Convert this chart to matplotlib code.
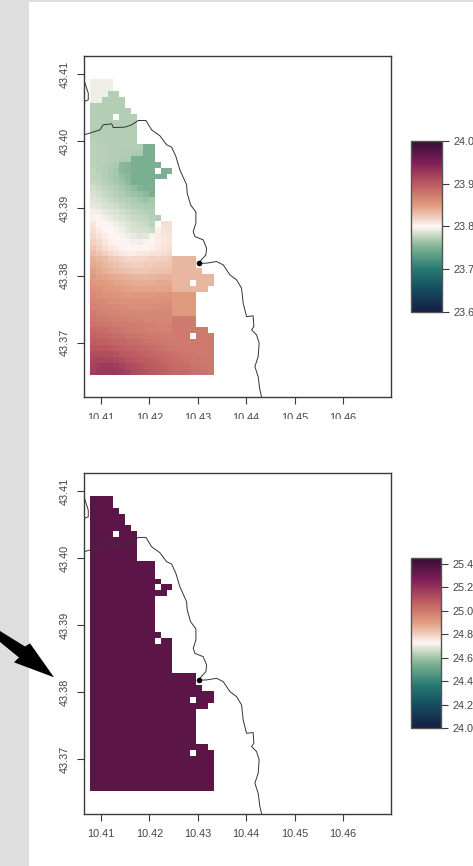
import matplotlib
matplotlib.use("Agg")
import matplotlib.pyplot as plt
import numpy as np
from matplotlib.colors import LinearSegmentedColormap
from matplotlib.patches import Polygon, Rectangle

plt.rcParams['font.family'] = ['Liberation Sans', 'DejaVu Sans']

W, H = 473, 866

# raster extent, 21 columns by 50 rows
lon_range = (10.4077, 10.4333)
lat_range = (43.4093, 43.3652)

x_ticks = [10.41, 10.42, 10.43, 10.44, 10.45, 10.46]
y_ticks = [43.37, 43.38, 43.39, 43.40, 43.41]
cbar1_ticks = [23.6, 23.7, 23.8, 23.9, 24.0]
cbar2_ticks = [24.0, 24.2, 24.4, 24.6, 24.8, 25.0, 25.2, 25.4]
cbar1_range = (23.6, 24.0)
cbar2_range = (24.0, 25.45)
plot2_value = 25.35

point_lon = [10.4303]
point_lat = [43.3818]

coast_lon = [10.4065, 10.4077, 10.4098, 10.41047, 10.41221, 10.41254, 10.41495, 10.41634,
             10.4177, 10.41929, 10.42046, 10.42218, 10.42356, 10.42459, 10.42548, 10.4263,
             10.42769, 10.42781, 10.42851, 10.42961, 10.42961, 10.42905, 10.4294, 10.43111,
             10.43182, 10.43167, 10.43043, 10.4303, 10.43182, 10.43388, 10.43524, 10.43663,
             10.43801, 10.43904, 10.43937, 10.44007, 10.44143, 10.44158, 10.44111, 10.44214,
             10.44267, 10.44247, 10.44179, 10.44247, 10.44282, 10.44317]
coast_lat = [43.40096, 43.40121, 43.4017, 43.40245, 43.4026, 43.40204, 43.4021, 43.40245,
             43.40309, 43.40309, 43.4017, 43.40081, 43.39947, 43.39912, 43.39772, 43.39574,
             43.3935, 43.39227, 43.39053, 43.38944, 43.3878, 43.38655, 43.3858, 43.38531,
             43.38407, 43.38308, 43.38208, 43.3818, 43.38184, 43.38208, 43.38159, 43.3801,
             43.37935, 43.37811, 43.37588, 43.37388, 43.37399, 43.37239, 43.3719, 43.37115,
             43.36992, 43.36792, 43.36643, 43.36494, 43.36296, 43.36192]
island_lon = [10.4065, 10.4067, 10.40705, 10.40738, 10.40738, 10.40655]
island_lat = [43.40926, 43.40866, 43.40791, 43.40717, 43.40617, 43.40592]

# upper panel values, thousandths above 23, top row first; N = hole in the raster
N = None
plot1_rows = [
    [794, 794, 794, 794],
    [794, 794, 794, 794],
    [794, 794, 794, 772, 772],
    [794, 794, 772, 772, 772, 772],
    [772, 772, 772, 772, 772, 772],
    [772, 772, 772, 772, 772, 772, 772],
    [772, 772, 772, 772, N, 772, 772, 772],
    [772, 772, 772, 772, 772, 772, 772, 772],
    [772, 772, 772, 772, 772, 772, 772, 772],
    [772, 772, 772, 772, 772, 772, 772, 772],
    [775, 774, 773, 772, 772, 772, 772, 772],
    [776, 775, 774, 773, 772, 772, 772, 772, 772, 750, 750],
    [776, 775, 774, 773, 772, 771, 771, 770, 770, 750, 750],
    [776, 775, 774, 772, 771, 770, 769, 750, 750, 750, 750],
    [776, 775, 773, 771, 769, 755, 754, 750, 750, 750, 750, 750],
    [777, 775, 773, 770, 767, 756, 754, 750, 750, 750, 750, N, 750, 750],
    [778, 776, 773, 770, 767, 760, 755, 750, 750, 750, 750, 750, 750],
    [779, 777, 774, 771, 768, 763, 757, 750, 750, 750, 750],
    [783, 781, 778, 775, 772, 768, 763, 758, 752, 750, 750],
    [786, 784, 781, 778, 775, 771, 767, 763, 760, 757, 750],
    [789, 787, 784, 781, 778, 775, 772, 769, 766, 764, 768],
    [792, 790, 787, 785, 782, 779, 776, 773, 771, 769, 770],
    [796, 794, 792, 789, 786, 783, 780, 778, 776, 774, 772],
    [798, 797, 796, 793, 790, 787, 784, 781, 779, 778, 774, 772],
    [808, 800, 799, 798, 795, 791, 788, 785, 782, 780, 776, N, 812, 812],
    [812, 806, 800, 799, 797, 794, 790, 787, 785, 783, 781, 804, 810, 812],
    [815, 810, 805, 801, 799, 797, 794, 791, 789, 790, 797, 805, 808, 810],
    [820, 815, 809, 804, 801, 799, 798, 796, 795, 797, 801, 806, 808, 810],
    [824, 819, 814, 809, 805, 802, 800, 800, 800, 802, 804, 807, 810, 812],
    [831, 826, 821, 816, 812, 808, 806, 806, 807, 808, 810, 812, 814, 816],
    [838, 834, 830, 826, 822, 819, 817, 817, 817, 818, 819, 820, 821, 822, 833, 833, 833, 833],
    [842, 838, 834, 830, 827, 824, 822, 821, 821, 822, 823, 824, 825, 826, 833, 833, 833, 833],
    [846, 842, 838, 835, 832, 829, 827, 826, 826, 826, 827, 828, 829, 829, 833, 833, 833, 833, 833],
    [850, 846, 844, 842, 840, 838, 836, 835, 834, 834, 835, 836, 837, 837, 833, 833, 833, 833, 833, 833, 833],
    [854, 851, 849, 847, 845, 843, 841, 840, 839, 839, 840, 841, 841, 841, 833, 833, 833, N, 833, 833, 833],
    [857, 855, 853, 851, 849, 847, 846, 845, 844, 844, 845, 845, 845, 846, 833, 833, 833, 833, 833, 833],
    [861, 859, 857, 855, 853, 852, 851, 850, 850, 850, 851, 852, 853, 855, 850, 850, 850, 850],
    [865, 863, 861, 859, 858, 857, 856, 855, 855, 855, 855, 856, 857, 858, 850, 850, 850, 850],
    [868, 866, 864, 863, 862, 861, 860, 859, 859, 859, 859, 860, 860, 861, 850, 850, 850, 850],
    [872, 870, 868, 867, 866, 865, 864, 864, 863, 863, 863, 863, 864, 864, 850, 850, 850, 850],
    [876, 874, 872, 871, 870, 869, 868, 867, 866, 865, 865, 865, 865, 865, 875, 875, 875, 875],
    [881, 879, 877, 876, 875, 874, 873, 872, 871, 870, 869, 868, 868, 868, 875, 875, 875, 875],
    [886, 885, 883, 881, 879, 877, 875, 874, 873, 871, 870, 869, 868, 868, 875, 875, 875, 875, 875, 875],
    [891, 890, 888, 887, 885, 883, 881, 880, 878, 876, 875, 873, 872, 871, 875, 875, 875, N, 875, 875, 875],
    [897, 896, 895, 893, 891, 889, 887, 885, 883, 881, 879, 878, 876, 875, 875, 875, 875, 875, 875, 875, 875],
    [903, 903, 902, 900, 898, 895, 893, 891, 888, 886, 884, 882, 880, 878, 876, 875, 875, 875, 875, 875, 875],
    [909, 910, 909, 908, 905, 902, 899, 896, 894, 891, 889, 887, 884, 882, 880, 878, 877, 876, 875, 875, 875],
    [915, 917, 917, 916, 913, 910, 906, 903, 900, 897, 894, 892, 889, 887, 884, 882, 880, 878, 877, 876, 875],
    [918, 922, 925, 925, 922, 918, 914, 910, 906, 902, 899, 896, 893, 889, 887, 885, 883, 881, 879, 877, 875],
    [920, 925, 928, 928, 926, 922, 918, 913, 909, 905, 902, 899, 896, 892, 890, 888, 886, 884, 882, 880, 878],
]

curl = LinearSegmentedColormap.from_list("curl", [
    (0.0, "#151d44"), (0.125, "#144a5e"), (0.25, "#257a71"), (0.375, "#7cb092"),
    (0.44, "#bcd3ba"), (0.5, "#fef6f5"), (0.56, "#efc9b6"), (0.625, "#e09a7e"),
    (0.75, "#bc5960"), (0.875, "#7e1d57"), (1.0, "#340d35")])

TEXT = "#444444"
LINE = "#3a3a3a"


def px_box(left, top, right, bottom):
    return [left / W, 1 - bottom / H, (right - left) / W, (bottom - top) / H]


def draw_map(fig, box, cbar_box, values, vrange, cbar_ticks):
    ax = fig.add_axes(px_box(*box))
    edges_x = np.linspace(*lon_range, values.shape[1] + 1)
    edges_y = np.linspace(*lat_range, values.shape[0] + 1)
    mesh = ax.pcolormesh(edges_x, edges_y, np.ma.masked_invalid(values), cmap=curl,
                         vmin=vrange[0], vmax=vrange[1], linewidth=0, rasterized=True)
    ax.plot(coast_lon, coast_lat, color="#333333", lw=0.7)
    ax.plot(island_lon, island_lat, color="#333333", lw=0.7)
    ax.plot(point_lon, point_lat, "o", color="black", ms=4, mew=0)
    ax.set_xlim(10.4065, 10.4699)
    ax.set_ylim(43.3619, 43.4127)
    ax.set_xticks(x_ticks, [f"{v:.2f}" for v in x_ticks])
    ax.set_yticks(y_ticks, [f"{v:.2f}" for v in y_ticks])
    ax.tick_params(axis="both", length=4.8, width=0.8, color=LINE, labelcolor=TEXT, labelsize=7.8)
    ax.tick_params(axis="x", pad=6.5)
    ax.tick_params(axis="y", pad=5.5)
    for lab in ax.get_yticklabels():
        lab.set_rotation(90)
        lab.set_va("center")
    for s in ax.spines.values():
        s.set_linewidth(1.0)
        s.set_color(LINE)

    cax = fig.add_axes(px_box(*cbar_box))
    cb = fig.colorbar(mesh, cax=cax)
    cb.set_ticks(cbar_ticks, labels=[f"{v:.1f}" for v in cbar_ticks])
    cax.tick_params(length=5, width=0.8, color=LINE, labelcolor=TEXT, labelsize=7.8, pad=3.5)
    cb.outline.set_linewidth(1.0)
    cb.outline.set_edgecolor("#555555")


n_cols = max(len(r) for r in plot1_rows)
plot1 = np.full((len(plot1_rows), n_cols), np.nan)
for i, row in enumerate(plot1_rows):
    for j, v in enumerate(row):
        if v is not None:
            plot1[i, j] = 23 + v / 1000
plot2 = np.where(np.isnan(plot1), np.nan, plot2_value)

fig = plt.figure(figsize=(W / 100, H / 100), dpi=100)

draw_map(fig, (84, 56, 391, 397), (411, 141, 442, 312), plot1, cbar1_range, cbar1_ticks)
draw_map(fig, (84, 473, 391, 813.6), (411, 558, 441, 728), plot2, cbar2_range, cbar2_ticks)


def to_fig(points):
    return [(x / W, 1 - y / H) for x, y in points]


# grey page edge, cut-off labels under the first map, and the arrow
fig.add_artist(Rectangle((0, 0), 29 / W, 1, transform=fig.transFigure, color="#dedede", lw=0, zorder=-1))
fig.add_artist(Rectangle((0, 1 - 2 / H), 1, 2 / H, transform=fig.transFigure, color="#dedede", lw=0, zorder=-1))
fig.add_artist(Rectangle((60 / W, 1 - 440 / H), 320 / W, 21 / H, transform=fig.transFigure,
                         color="white", lw=0, zorder=5))
arrow = [(0, 631), (25, 646.5), (30, 643.3), (54, 677.3), (14, 662.3), (19, 657.5), (0, 642)]
fig.add_artist(Polygon(to_fig(arrow), closed=True, transform=fig.transFigure, color="black", lw=0, zorder=6))

fig.savefig("out.png", dpi=100)
